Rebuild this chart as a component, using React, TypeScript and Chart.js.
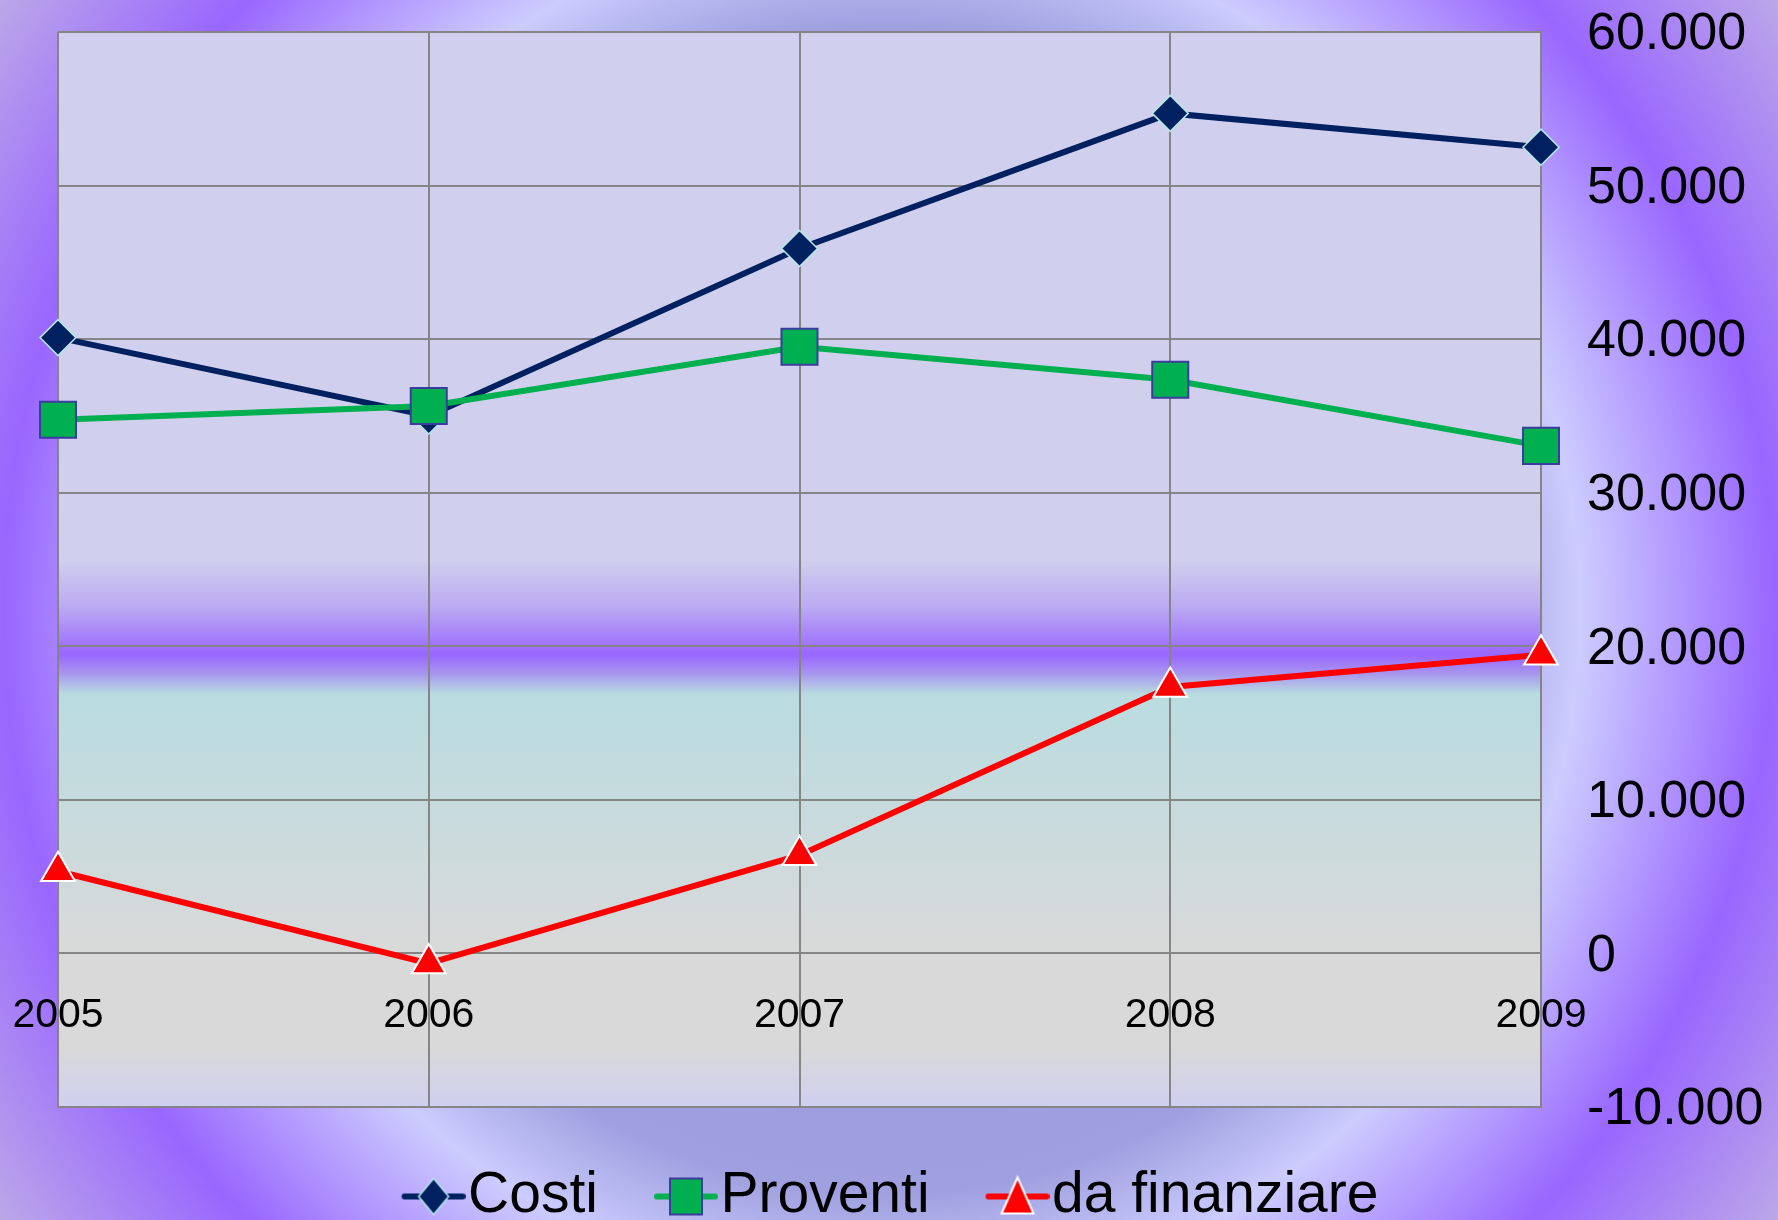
import React, { useEffect, useRef } from 'react';
import { Chart, registerables } from 'chart.js';

Chart.register(...registerables);

// ---- data ----
const years = ['2005', '2006', '2007', '2008', '2009'];
const costi = [40100, 35000, 45900, 54700, 52500];
const proventi = [34750, 35650, 39500, 37350, 33050];
const daFinanziare = [5350, -650, 6400, 17350, 19450];
const seriesNames = ['Costi', 'Proventi', 'da finanziare'];
const yMin = -10000;
const yMax = 60000;
const yStep = 10000;

const W = 1778;
const H = 1220;
const FONT = '"Liberation Sans", Arial, Helvetica, sans-serif';
const GRID = '#858585';

function fmt(v: number): string {
  const s = String(Math.abs(v)).replace(/\B(?=(\d{3})+(?!\d))/g, '.');
  return (v < 0 ? '-' : '') + s;
}

type MarkerSpec = {
  line: string;
  shape: 'diamond' | 'square' | 'triangle';
  fill: string;
  border: string;
  bw: number;
  r: number;
};

const specs: MarkerSpec[] = [
  { line: '#002060', shape: 'diamond', fill: '#002060', border: '#B4E8E8', bw: 1.5, r: 18 },
  { line: '#00B050', shape: 'square', fill: '#00B050', border: '#3B3BA0', bw: 2, r: 25.5 },
  { line: '#FF0000', shape: 'triangle', fill: '#FF0000', border: '#FFFFFF', bw: 2, r: 19.5 },
];

function legendIcon(s: MarkerSpec): HTMLCanvasElement {
  const c = document.createElement('canvas');
  c.width = 92;
  c.height = 46;
  const g = c.getContext('2d')!;
  const cy = 23;
  const cx = 60;
  g.strokeStyle = s.line;
  g.lineWidth = 6;
  g.lineCap = 'round';
  g.beginPath();
  g.moveTo(31, cy);
  g.lineTo(89, cy);
  g.stroke();
  g.beginPath();
  if (s.shape === 'diamond') {
    g.moveTo(cx, cy - 18);
    g.lineTo(cx + 15, cy);
    g.lineTo(cx, cy + 18);
    g.lineTo(cx - 15, cy);
  } else if (s.shape === 'square') {
    g.rect(cx - 16, cy - 18, 32, 36);
  } else {
    g.moveTo(cx, cy - 19);
    g.lineTo(cx + 16, cy + 17);
    g.lineTo(cx - 16, cy + 17);
  }
  g.closePath();
  g.fillStyle = s.fill;
  g.fill();
  g.lineWidth = s.bw;
  g.strokeStyle = s.border;
  g.stroke();
  return c;
}

const bgPlugin = {
  id: 'bgPlugin',
  afterLayout(chart: any) {
    const l = chart.legend;
    if (l) {
      l.top += 7;
      l.bottom += 7;
    }
  },
  beforeDraw(chart: any) {
    const { ctx, chartArea: a, width, height } = chart;
    ctx.save();
    const cx = width * 0.5;
    const cy = height * 0.5;
    const rg = ctx.createRadialGradient(cx, cy, 0, cx, cy, 1080);
    rg.addColorStop(0, '#9494DA');
    rg.addColorStop(0.54, '#A0A0E0');
    rg.addColorStop(0.64, '#CCCCFF');
    rg.addColorStop(0.82, '#9966FF');
    rg.addColorStop(1, '#BCA8E8');
    ctx.fillStyle = rg;
    ctx.fillRect(0, 0, width, height);

    const lg = ctx.createLinearGradient(0, a.top, 0, a.bottom);
    lg.addColorStop(0, '#D0D0EE');
    lg.addColorStop(0.49, '#D0D0EE');
    lg.addColorStop(0.535, '#BBAAF2');
    lg.addColorStop(0.565, '#A47CFB');
    lg.addColorStop(0.579, '#9966FF');
    lg.addColorStop(0.597, '#A896EE');
    lg.addColorStop(0.616, '#B9DCE0');
    lg.addColorStop(0.76, '#CCDADC');
    lg.addColorStop(0.857, '#D9D9D9');
    lg.addColorStop(0.945, '#D9D9DA');
    lg.addColorStop(1, '#CFCFF0');
    ctx.fillStyle = lg;
    ctx.fillRect(a.left, a.top, a.right - a.left, a.bottom - a.top);
    ctx.restore();
  },
};

function zeroPadding(s: any) {
  s.paddingTop = 0;
  s.paddingBottom = 0;
  s.paddingLeft = 0;
  s.paddingRight = 0;
}

export default function App() {
  const ref = useRef<HTMLCanvasElement | null>(null);

  useEffect(() => {
    if (!ref.current) return;
    const icons = specs.map(legendIcon);
    const values = [costi, proventi, daFinanziare];
    const pointStyles = ['rectRot', 'rect', 'triangle'];
    const orders = [2, 1, 0];

    const chart = new Chart(ref.current, {
      type: 'line',
      data: {
        labels: years,
        datasets: values.map((d, i) => ({
          label: seriesNames[i],
          data: d,
          order: orders[i],
          borderColor: specs[i].line,
          borderWidth: 6,
          tension: 0,
          fill: false,
          pointStyle: pointStyles[i],
          pointRadius: specs[i].r,
          pointBackgroundColor: specs[i].fill,
          pointBorderColor: specs[i].border,
          pointBorderWidth: specs[i].bw,
          pointHoverRadius: specs[i].r,
        })),
      },
      options: {
        responsive: false,
        animation: false,
        events: [],
        layout: { padding: { left: 0, top: 32, right: 0, bottom: -8 } },
        plugins: {
          tooltip: { enabled: false },
          legend: {
            position: 'bottom',
            labels: {
              usePointStyle: true,
              pointStyleWidth: 40,
              padding: 54,
              color: '#000000',
              font: { family: FONT, size: 57 },
              sort: (a: any, b: any) => a.datasetIndex - b.datasetIndex,
              generateLabels: (ch: any) => {
                const base = (Chart.defaults.plugins.legend.labels as any).generateLabels(ch);
                return base.map((it: any) => ({ ...it, pointStyle: icons[it.datasetIndex], rotation: 0 }));
              },
            },
          },
        },
        scales: {
          x: {
            type: 'category',
            position: { y: 0 } as any,
            offset: false,
            grid: { color: GRID, lineWidth: 2, drawTicks: false },
            border: { color: GRID, width: 2 },
            ticks: {
              color: '#000000',
              font: { family: FONT, size: 41 },
              padding: 38,
              maxRotation: 0,
              autoSkip: false,
            },
            afterFit: zeroPadding,
          },
          yl: {
            type: 'linear',
            position: 'left',
            display: true,
            grid: { display: false, drawTicks: false },
            border: { display: false },
            ticks: { display: false },
            afterFit: (s: any) => {
              s.width = 58;
              zeroPadding(s);
            },
          },
          y: {
            type: 'linear',
            position: 'right',
            min: yMin,
            max: yMax,
            grid: { color: GRID, lineWidth: 2, drawTicks: false },
            border: { color: GRID, width: 2 },
            ticks: {
              stepSize: yStep,
              color: '#000000',
              font: { family: FONT, size: 52 },
              padding: 46,
              labelOffset: 3,
              callback: (v: any) => fmt(Number(v)),
            },
            afterFit: (s: any) => {
              s.width = 237;
              zeroPadding(s);
            },
          },
        },
      },
      plugins: [bgPlugin],
    } as any);

    return () => chart.destroy();
  }, []);

  return (
    <div style={{ position: 'fixed', left: 0, top: 0, width: W, height: H, overflow: 'hidden' }}>
      <canvas ref={ref} width={W} height={H} style={{ display: 'block', width: W, height: H }} />
    </div>
  );
}
